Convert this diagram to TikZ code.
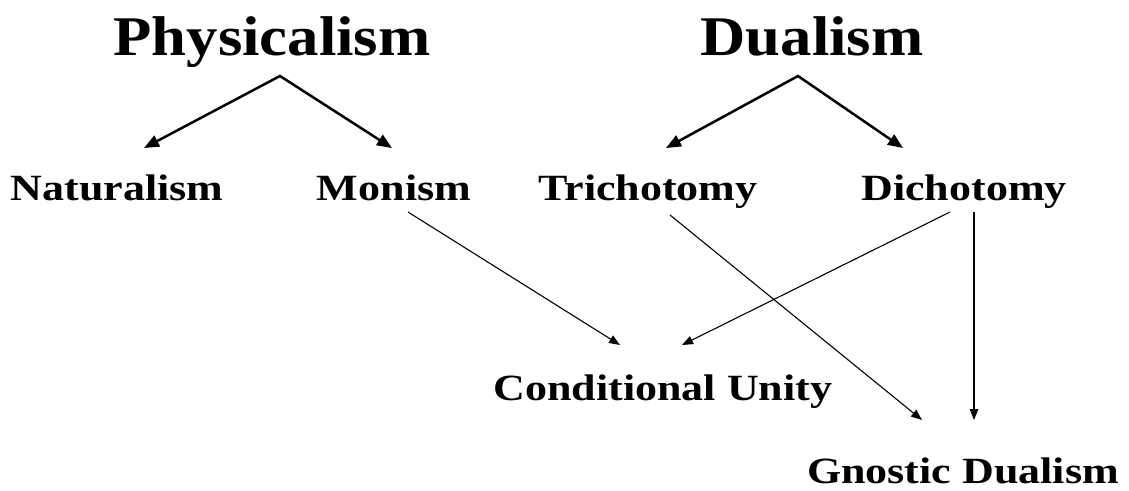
\documentclass[tikz,border=0pt]{standalone}
\usepackage{fontspec}
\setmainfont{Liberation Serif}
\newfontfamily\hdfont[FakeStretch=1.12]{Liberation Serif}
\newfontfamily\lbfont[FakeStretch=1.19]{Liberation Serif}
\usetikzlibrary{arrows.meta}
\begin{document}
\begin{tikzpicture}[x=1pt,y=-1pt,
  head/.style={font=\hdfont\bfseries\fontsize{56}{60}\selectfont, anchor=base, inner sep=0pt},
  lab/.style={font=\lbfont\bfseries\fontsize{37}{40}\selectfont, anchor=base, inner sep=0pt},
  fork/.style={line width=2.5pt, line join=miter, {Triangle[length=15pt,width=12pt]}-{Triangle[length=15pt,width=12pt]}},
  link/.style={line width=1.1pt, -{Triangle[length=11pt,width=8.5pt]}}]
\useasboundingbox (0,0) rectangle (1129,490);
\node[head] (phys) at (272,55) {Physicalism};
\node[head] (dual) at (812,55) {Dualism};
\node[lab] (nat) at (117,200) {Naturalism};
\node[lab] (mon) at (394,200) {Monism};
\node[lab] (tri) at (648,200) {Trichotomy};
\node[lab] (dich) at (964,200) {Dichotomy};
\node[lab] (cond) at (663,400) {Conditional Unity};
\node[lab] (gnos) at (963,483) {Gnostic Dualism};
% fork coordinates
\coordinate (pa) at (280,76);
\coordinate (pl) at (144,148);
\coordinate (pr) at (392,148);
\coordinate (da) at (798,76);
\coordinate (dl) at (666,148);
\coordinate (dr) at (903,148);
\draw[fork] (pl) -- (pa) -- (pr);
\draw[fork] (dl) -- (da) -- (dr);
% thin links
\coordinate (m1) at (408,212);
\coordinate (c1) at (620,345);
\coordinate (t1) at (670,215);
\coordinate (g1) at (922,420);
\coordinate (d1) at (950,212);
\coordinate (c2) at (682,345);
\coordinate (d2) at (974,212);
\coordinate (g2) at (974,420);
\draw[link] (m1) -- (c1);
\draw[link] (t1) -- (g1);
\draw[link] (d1) -- (c2);
\draw[link] (d2) -- (g2);
\end{tikzpicture}
\end{document}
